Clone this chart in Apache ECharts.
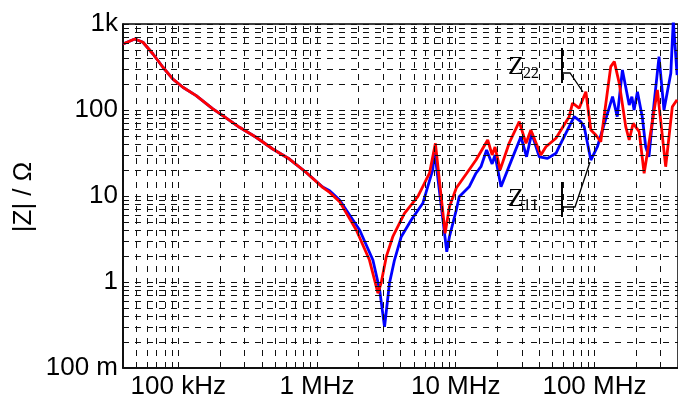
<!DOCTYPE html>
<html>
<head>
<meta charset="utf-8">
<script src="https://cdn.jsdelivr.net/npm/echarts@6/dist/echarts.min.js"></script>
<style>
html,body{margin:0;padding:0;background:#fff;}
#chart{width:678px;height:401px;}
</style>
</head>
<body>
<div id="chart"></div>
<script>
// Frequencies in MHz, impedance magnitudes in ohms
const z11Freq = [0.040,0.0486,0.0557,0.0658,0.0776,0.0916,0.108,0.1347,0.1776,0.2096,0.2765,0.364,0.480,0.633,0.833,1.099,1.234,1.456,2.03,2.53,2.83,3.07,3.33,3.62,4.05,4.78,5.79,6.83,7.03,8.62,9.01,10.1,10.6,12.5,14.0,15.2,16.7,18.3,19.2,21.2,25.0,29.5,32.4,35.3,40.0,45.9,52.8,55.7,71.4,79.8,84.3,94.2,105,135,146,159,178,186,193,204,221,234,247,269,292,317,355,370,394];
const z11Mag  = [585,669,613,448,314,229,184,147,103,85.9,62.9,48.2,35.2,26.9,18.9,12.7,11.5,8.98,4.03,1.80,0.81,0.30,0.966,1.80,3.36,5.26,8.22,20.1,34.3,2.25,3.36,6.88,9.82,12.8,18.4,21.9,34.3,23.6,30.0,12.8,25.1,48.9,28.6,53.6,28.6,27.4,31.4,37.4,83.6,73.1,64,26.2,37.4,143,83.6,292,114,143,100,163,83.6,37.4,28.6,120,417,100,267,1100,255];
const z22Freq = [0.040,0.0486,0.0557,0.0658,0.0776,0.0916,0.108,0.1347,0.1776,0.2096,0.2765,0.364,0.480,0.633,0.833,1.099,1.234,1.456,1.92,2.39,2.75,2.90,3.16,3.52,4.27,5.33,6.47,7.14,8.39,9.01,10.1,11.9,14.0,17.0,18.3,19.2,20.9,24.3,28.7,32.1,34.8,41.1,44.7,52.8,65.7,69.5,77.6,86.7,94.2,102.3,111,131,139,151,168,178,190,210,228,247,284,326,364,394];
const z22Mag  = [585,669,613,448,314,229,184,147,103,85.9,62.9,48.2,35.2,26.9,18.9,12.6,11.0,8.6,4.03,1.80,0.74,0.97,1.97,3.36,6.29,9.82,18.4,41.0,3.68,7.51,12.4,18.0,26.2,44.8,30.0,37.1,20.1,41.3,73.1,41.0,58.5,30.0,37.4,46.9,83.6,120,105,163,58.5,51.2,42.8,319,365,204,64,44.8,70,56,18.4,41.0,171,21.9,109,131];
const xTickValues = [0.1,1,10,100];
const xTickLabels = ['100 kHz','1 MHz','10 MHz','100 MHz'];
const yTickValues = [0.1,1,10,100,1000];
const yTickLabels = ['100 m','1','10','100','1k'];

const xMin = 0.04, xMax = 400, yMin = 0.1, yMax = 1000;

function zip(a,b){ return a.map((v,i)=>[v,b[i]]); }
function tickFmt(vals, labels){
  return function(v){
    for (let i=0;i<vals.length;i++){
      if (Math.abs(Math.log10(v) - Math.log10(vals[i])) < 1e-6) return labels[i];
    }
    return '';
  };
}
// log grid lines: 1..9 times each decade within the range
function logGrid(lo, hi){
  const out=[];
  for (let e=Math.floor(Math.log10(lo)); e<=Math.ceil(Math.log10(hi)); e++){
    for (let m=1;m<=9;m++){
      const v = +(m*Math.pow(10,e)).toPrecision(6);
      if (v>=lo*0.9999 && v<=hi*1.0001) out.push(v);
    }
  }
  return out;
}
const gridLines = logGrid(xMin,xMax).map(v=>({xAxis:v}))
  .concat(logGrid(yMin,yMax).map(v=>({yAxis:v})));

const FONT = 'Liberation Sans, Arial, sans-serif';
const SERIF = 'Liberation Serif, Times New Roman, serif';

const chart = echarts.init(document.getElementById('chart'), null, {renderer:'canvas'});
chart.setOption({
  animation:false,
  backgroundColor:'#fff',
  grid:{left:123, top:24, width:556, height:344, show:true, borderColor:'#000', borderWidth:1.5, backgroundColor:'transparent'},
  xAxis:{type:'log', logBase:10, min:xMin, max:xMax,
    axisLine:{show:true, onZero:false, lineStyle:{color:'#000', width:1.5}},
    axisTick:{show:false}, splitLine:{show:false}, minorTick:{show:false},
    axisLabel:{formatter:tickFmt(xTickValues,xTickLabels), fontSize:26, color:'#000', fontFamily:FONT, margin:6, showMinLabel:false, showMaxLabel:false}},
  yAxis:{type:'log', logBase:10, min:yMin, max:yMax,
    axisLine:{show:true, onZero:false, lineStyle:{color:'#000', width:1.5}},
    axisTick:{show:false}, splitLine:{show:false},
    axisLabel:{formatter:tickFmt(yTickValues,yTickLabels), fontSize:26, color:'#000', fontFamily:FONT, margin:5}},
  series:[
    {type:'line', data:[], z:1, silent:true,
      markLine:{silent:true, symbol:'none', animation:false, label:{show:false},
        lineStyle:{color:'#111', type:[6,6], width:1}, emphasis:{disabled:true}, data:gridLines}},
    {name:'Z11', type:'line', data:zip(z11Freq,z11Mag), showSymbol:false, symbol:'none', z:3, clip:true,
      lineStyle:{color:'#0000ff', width:2.8}, itemStyle:{color:'#0000ff'}},
    {name:'Z22', type:'line', data:zip(z22Freq,z22Mag), showSymbol:false, symbol:'none', z:4, clip:true,
      lineStyle:{color:'#ff0000', width:2.8}, itemStyle:{color:'#ff0000'}}
  ],
  graphic:[
    {type:'text', left:null, x:24, y:197, rotation:Math.PI/2, z:10,
      style:{text:'|Z| / Ω', font:'26px '+FONT, fill:'#000', textAlign:'center', textVerticalAlign:'middle'}},
    {type:'text', x:508, y:67, z:10, style:{text:'Z', font:'26px '+SERIF, fill:'#000', textAlign:'left', textVerticalAlign:'middle'}},
    {type:'text', x:523, y:74, z:10, style:{text:'22', font:'16px '+SERIF, fill:'#000', textAlign:'left', textVerticalAlign:'middle'}},
    {type:'text', x:508, y:199, z:10, style:{text:'Z', font:'26px '+SERIF, fill:'#000', textAlign:'left', textVerticalAlign:'middle'}},
    {type:'text', x:523, y:206, z:10, style:{text:'11', font:'16px '+SERIF, fill:'#000', textAlign:'left', textVerticalAlign:'middle'}},
    {type:'line', z:10, shape:{x1:562, y1:48, x2:562, y2:83}, style:{stroke:'#000', lineWidth:2}},
    {type:'polyline', z:10, shape:{points:[[562,73],[570,73],[583,92]]}, style:{stroke:'#000', lineWidth:1.3, fill:null}},
    {type:'line', z:10, shape:{x1:562, y1:182, x2:562, y2:217}, style:{stroke:'#000', lineWidth:2}},
    {type:'polyline', z:10, shape:{points:[[562,207],[575,207],[590,162]]}, style:{stroke:'#000', lineWidth:1.3, fill:null}}
  ]
});
</script>
</body>
</html>
